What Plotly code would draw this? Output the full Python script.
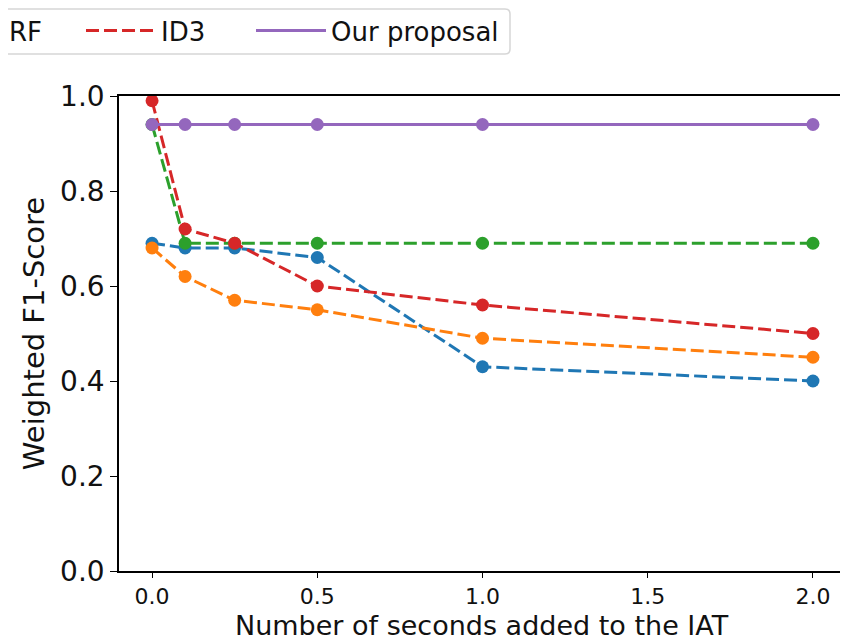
import plotly.graph_objects as go

x_seconds = [0.0, 0.1, 0.25, 0.5, 1.0, 2.0]
series_blue = [0.69, 0.68, 0.68, 0.66, 0.43, 0.40]
series_orange = [0.68, 0.62, 0.57, 0.55, 0.49, 0.45]
rf_values = [0.94, 0.69, 0.69, 0.69, 0.69, 0.69]
id3_values = [0.99, 0.72, 0.69, 0.60, 0.56, 0.50]
proposal_values = [0.94, 0.94, 0.94, 0.94, 0.94, 0.94]

x_ticks = [0.0, 0.5, 1.0, 1.5, 2.0]
y_ticks = [0.0, 0.2, 0.4, 0.6, 0.8, 1.0]
x_title = "Number of seconds added to the IAT"
y_title = "Weighted F1-Score"

FONT = "DejaVu Sans"
TXT = "#111111"
DASH = "13px,5px"

# geometry (page px; the page has an 8px body margin)
OFF = 8
PL, PR, PT, PB = 119, 846, 96, 571
W, H = 840, 634
ITEMW = 70

def px_to_paper_x(px):
    return (px - PL) / (PR - PL)

def px_to_paper_y(py):
    return (PB - py) / (PB - PT)

fig = go.Figure()

def add(y, color, name, dash, legend):
    # line trace (carries the legend entry)
    fig.add_trace(go.Scatter(
        x=x_seconds, y=y, mode="lines", name=name,
        line=dict(color=color, width=3, dash=dash),
        showlegend=legend is not None, legend=legend or "legend",
    ))
    # markers
    fig.add_trace(go.Scatter(
        x=x_seconds, y=y, mode="markers", name=name,
        marker=dict(color=color, size=13),
        showlegend=False,
    ))

add(series_blue, "#1f77b4", "Series A", DASH, None)
add(series_orange, "#ff7f0e", "Series B", DASH, None)
add(rf_values, "#2ca02c", "RF", DASH, "legend")
add(id3_values, "#d62728", "ID3", DASH, "legend2")
add(proposal_values, "#9467bd", "Our proposal", "solid", "legend3")

def leg(text_px):
    left_px = text_px - (ITEMW + 11)
    return dict(
        orientation="h", x=px_to_paper_x(left_px), xanchor="left",
        y=px_to_paper_y(7), yanchor="top",
        font=dict(family=FONT, size=26, color=TXT),
        borderwidth=0, bgcolor="rgba(0,0,0,0)", itemwidth=ITEMW,
    )

# legend frame (rounded box, partly outside the page on the left)
x0, x1 = px_to_paper_x(-12), px_to_paper_x(510)
y0, y1 = px_to_paper_y(54), px_to_paper_y(9)
rx = 5 / (PR - PL)
ry = 5 / (PB - PT)
frame_path = (
    f"M {x0+rx},{y0} L {x1-rx},{y0} Q {x1},{y0} {x1},{y0+ry} "
    f"L {x1},{y1-ry} Q {x1},{y1} {x1-rx},{y1} L {x0+rx},{y1} "
    f"Q {x0},{y1} {x0},{y1-ry} L {x0},{y0+ry} Q {x0},{y0} {x0+rx},{y0} Z"
)

fig.update_layout(
    width=W, height=H,
    margin=dict(l=PL - OFF, r=W - (PR - OFF), t=PT - OFF, b=H - (PB - OFF), autoexpand=False),
    paper_bgcolor="white", plot_bgcolor="white",
    font=dict(family=FONT, color=TXT),
    legend=leg(10),
    legend2=leg(162),
    legend3=leg(332),
    shapes=[dict(type="path", xref="paper", yref="paper", path=frame_path,
                 line=dict(color="#d6d6d6", width=1.5), layer="above")],
    annotations=[dict(
        text=x_title, xref="paper", yref="paper",
        x=px_to_paper_x(482), y=px_to_paper_y(641.5), xanchor="center", yanchor="bottom",
        showarrow=False, borderpad=0, font=dict(family=FONT, size=27, color=TXT),
    )],
    xaxis=dict(
        range=[-0.1, 2.1], tickvals=x_ticks, ticktext=[f"{v:.1f}" for v in x_ticks],
        showline=True, linecolor="black", linewidth=1.5, mirror=True,
        ticks="outside", ticklen=5, tickcolor="black", showgrid=False, zeroline=False,
        tickfont=dict(family=FONT, size=22, color=TXT),
    ),
    yaxis=dict(
        range=[0, 1.0], tickvals=y_ticks, ticktext=[f"{v:.1f}" for v in y_ticks],
        showline=True, linecolor="black", linewidth=1.5, mirror=True,
        ticks="outside", ticklen=7, tickcolor="black", showgrid=False, zeroline=False,
        tickfont=dict(family=FONT, size=28, color=TXT),
        title=dict(text=y_title, font=dict(family=FONT, size=29, color=TXT), standoff=7),
    ),
)

fig.write_html("out.html")
